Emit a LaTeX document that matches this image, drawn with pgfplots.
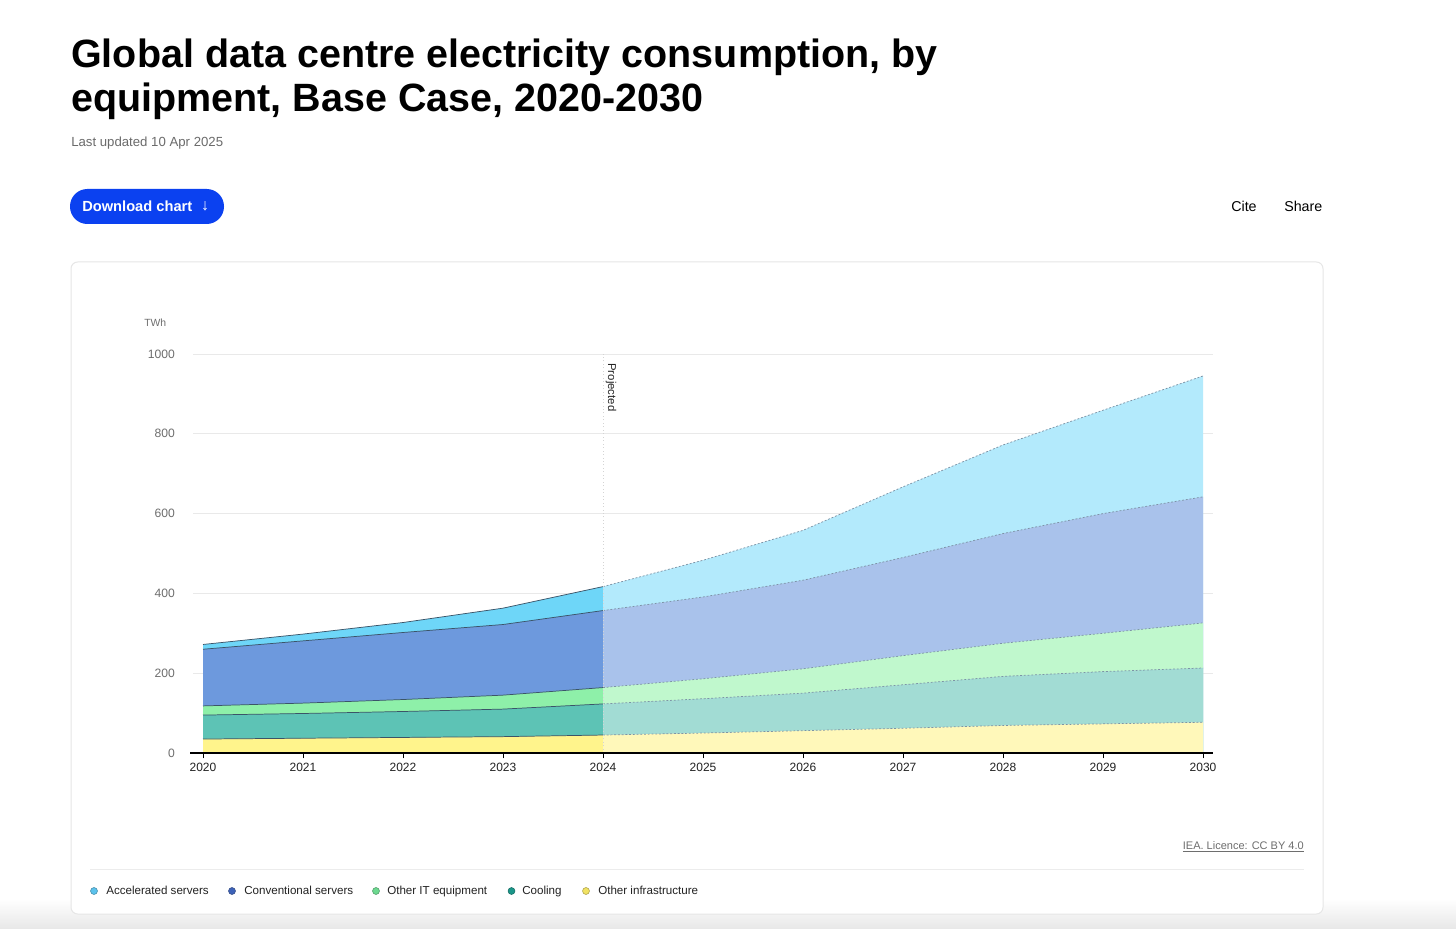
\documentclass[border=0pt]{standalone}
\usepackage{pgfplots}
\pgfplotsset{compat=1.18}
\usepackage{pgfplotstable}
\usepackage{fontspec}
\setmainfont{Liberation Sans}

\definecolor{hacc}{HTML}{6ED6F8}
\definecolor{hconv}{HTML}{6D99DD}
\definecolor{hit}{HTML}{8EF0A9}
\definecolor{hcool}{HTML}{5DC3B5}
\definecolor{hinf}{HTML}{FFF48C}
\definecolor{pacc}{HTML}{B3EAFC}
\definecolor{pconv}{HTML}{A9C2EB}
\definecolor{pit}{HTML}{C0F8CD}
\definecolor{pcool}{HTML}{A2DCD4}
\definecolor{pinf}{HTML}{FFF8BA}
\definecolor{lacc}{HTML}{5BC2EC}
\definecolor{lconv}{HTML}{3D62B8}
\definecolor{lit}{HTML}{6CD98F}
\definecolor{lcool}{HTML}{1A9689}
\definecolor{linf}{HTML}{F1E262}
\definecolor{hlc}{HTML}{3B5468}
\definecolor{plc}{HTML}{7D93A6}
\definecolor{gridc}{HTML}{E9E9E9}
\definecolor{tickx}{HTML}{222222}
\definecolor{ticky}{HTML}{6E6E6E}
\definecolor{btnblue}{HTML}{0B41F0}
\definecolor{cardb}{HTML}{E6E6E6}
\definecolor{sepc}{HTML}{ECECEC}
\definecolor{subc}{HTML}{6B6B6B}
\definecolor{dotc}{HTML}{D4D4D4}

% cumulative stack tops (TWh)
\pgfplotstableread{
year infra cool it conv acc
2020 35 95 118 260 272
2021 37 99 125 281 298
2022 39 104 134 302 327
2023 41 110 145 322 363
2024 45 123 164 357 417
}\hist

\pgfplotstableread{
year infra cool it conv acc
2024 45 123 164 357 417
2025 50 136 186 391 483
2026 56 150 211 433 558
2027 62 171 244 490 667
2028 69 192 275 550 772
2029 73 204 300 600 859
2030 77 213 326 642 945
}\proj

\tikzset{hl/.style={color=hlc, line width=0.55pt},
         pl/.style={color=plc, line width=0.55pt, dash pattern=on 1.4pt off 1.4pt},
         lg/.style={anchor=base west, inner sep=0, text=tickx, font=\fontsize{8.7}{10}\selectfont}}

\begin{document}
\begin{tikzpicture}
\path[use as bounding box] (0,0) rectangle (1092pt,696pt);
\fill[white] (0,0) rectangle (1092pt,696pt);
\shade[top color=white, bottom color=black!9] (0,0) rectangle (1092pt,22pt);

\begin{scope}[x=0.75pt,y=-0.75pt,shift={(0pt,696pt)}]
  % card
  \draw[cardb, fill=white, line width=0.75pt, rounded corners=5pt] (71,262) rectangle (1323,914);
  % title
  \node[anchor=base west, inner sep=0, font=\fontsize{29.6}{33}\selectfont\bfseries] at (71,68) {Global data centre electricity consumption, by};
  \node[anchor=base west, inner sep=0, font=\fontsize{29.6}{33}\selectfont\bfseries] at (71,112) {equipment, Base Case, 2020-2030};
  \node[anchor=base west, inner sep=0, text=subc, font=\fontsize{9.9}{11}\selectfont] at (71,147) {Last updated 10 Apr 2025};
  % button
  \fill[btnblue, rounded corners=13pt] (70,189) rectangle (224,224);
  \node[anchor=west, inner sep=0, text=white, font=\fontsize{11}{12}\selectfont\bfseries] at (82,206.5) {Download chart};
  \node[anchor=center, inner sep=0, text=white, font=\fontsize{12}{13}\selectfont] at (205,206.5) {↓};
  \node[anchor=west, inner sep=0, font=\fontsize{10.7}{12}\selectfont] at (1231,206.5) {Cite};
  \node[anchor=west, inner sep=0, font=\fontsize{10.7}{12}\selectfont] at (1284,206.5) {Share};
  % unit
  \node[anchor=west, inner sep=0, text=ticky, font=\fontsize{7.8}{9}\selectfont] at (144,323) {TWh};
  % license and separator
  \node[anchor=east, inner sep=0, text=ticky, font=\fontsize{8.25}{9}\selectfont] at (1304,847) {\underline{IEA. Licence: CC BY 4.0}};
  \draw[sepc, line width=0.75pt] (90,870) -- (1304,870);
  % legend
  \draw[lacc!70!black, fill=lacc, line width=0.4pt] (94,891) circle[radius=2.6pt];
  \node[lg] at (106,895) {Accelerated servers};
  \draw[lconv!70!black, fill=lconv, line width=0.4pt] (232,891) circle[radius=2.6pt];
  \node[lg] at (244,895) {Conventional servers};
  \draw[lit!70!black, fill=lit, line width=0.4pt] (376,891) circle[radius=2.6pt];
  \node[lg] at (387,895) {Other IT equipment};
  \draw[lcool!70!black, fill=lcool, line width=0.4pt] (511.5,891) circle[radius=2.6pt];
  \node[lg] at (522,895) {Cooling};
  \draw[linf!70!black, fill=linf, line width=0.4pt] (586,891) circle[radius=2.6pt];
  \node[lg] at (598,895) {Other infrastructure};
\end{scope}

\begin{axis}[
  at={(144.75pt,131.25pt)}, anchor=south west,
  scale only axis, width=765pt, height=299.25pt,
  xmin=2019.9, xmax=2030.1, ymin=0, ymax=1000,
  axis x line*=bottom, axis y line*=left,
  x axis line style={-, draw=none},
  y axis line style={draw=none},
  xtick={2020,2021,...,2030}, ytick={0,200,...,1000},
  xtick style={black, line width=0.6pt},
  ytick style={draw=none},
  tick align=outside, major tick length=4pt,
  ymajorgrids, grid style={gridc, line width=0.6pt},
  /pgf/number format/1000 sep={},
  /pgf/number format/assume math mode=true,
  xticklabel style={font=\fontsize{9}{10}\selectfont, text=tickx},
  yticklabel style={font=\fontsize{9.1}{10}\selectfont, text=ticky, xshift=-6pt},
  no markers, clip=false,
]
% historical
\addplot[fill=hacc, draw=none] table[x=year,y=acc]{\hist} \closedcycle;
\addplot[fill=hconv, draw=none] table[x=year,y=conv]{\hist} \closedcycle;
\addplot[fill=hit, draw=none] table[x=year,y=it]{\hist} \closedcycle;
\addplot[fill=hcool, draw=none] table[x=year,y=cool]{\hist} \closedcycle;
\addplot[fill=hinf, draw=none] table[x=year,y=infra]{\hist} \closedcycle;
\addplot[hl] table[x=year,y=acc]{\hist};
\addplot[hl] table[x=year,y=conv]{\hist};
\addplot[hl] table[x=year,y=it]{\hist};
\addplot[hl] table[x=year,y=cool]{\hist};
\addplot[hl] table[x=year,y=infra]{\hist};
% projected
\addplot[fill=pacc, draw=none] table[x=year,y=acc]{\proj} \closedcycle;
\addplot[fill=pconv, draw=none] table[x=year,y=conv]{\proj} \closedcycle;
\addplot[fill=pit, draw=none] table[x=year,y=it]{\proj} \closedcycle;
\addplot[fill=pcool, draw=none] table[x=year,y=cool]{\proj} \closedcycle;
\addplot[fill=pinf, draw=none] table[x=year,y=infra]{\proj} \closedcycle;
\addplot[pl] table[x=year,y=acc]{\proj};
\addplot[pl] table[x=year,y=conv]{\proj};
\addplot[pl] table[x=year,y=it]{\proj};
\addplot[pl] table[x=year,y=cool]{\proj};
\addplot[pl] table[x=year,y=infra]{\proj};
% projected marker line and label
\draw[dotc, dotted, line width=0.6pt] (axis cs:2024,0) -- (axis cs:2024,1000);
\node[rotate=-90, anchor=west, inner sep=0, text=tickx, font=\fontsize{8.5}{9}\selectfont] at (axis cs:2024.08,977) {Projected};
% x axis line on top
\draw[black, line width=0.8pt] (axis cs:2019.87,0) -- (axis cs:2030.1,0);
\end{axis}
\end{tikzpicture}
\end{document}
